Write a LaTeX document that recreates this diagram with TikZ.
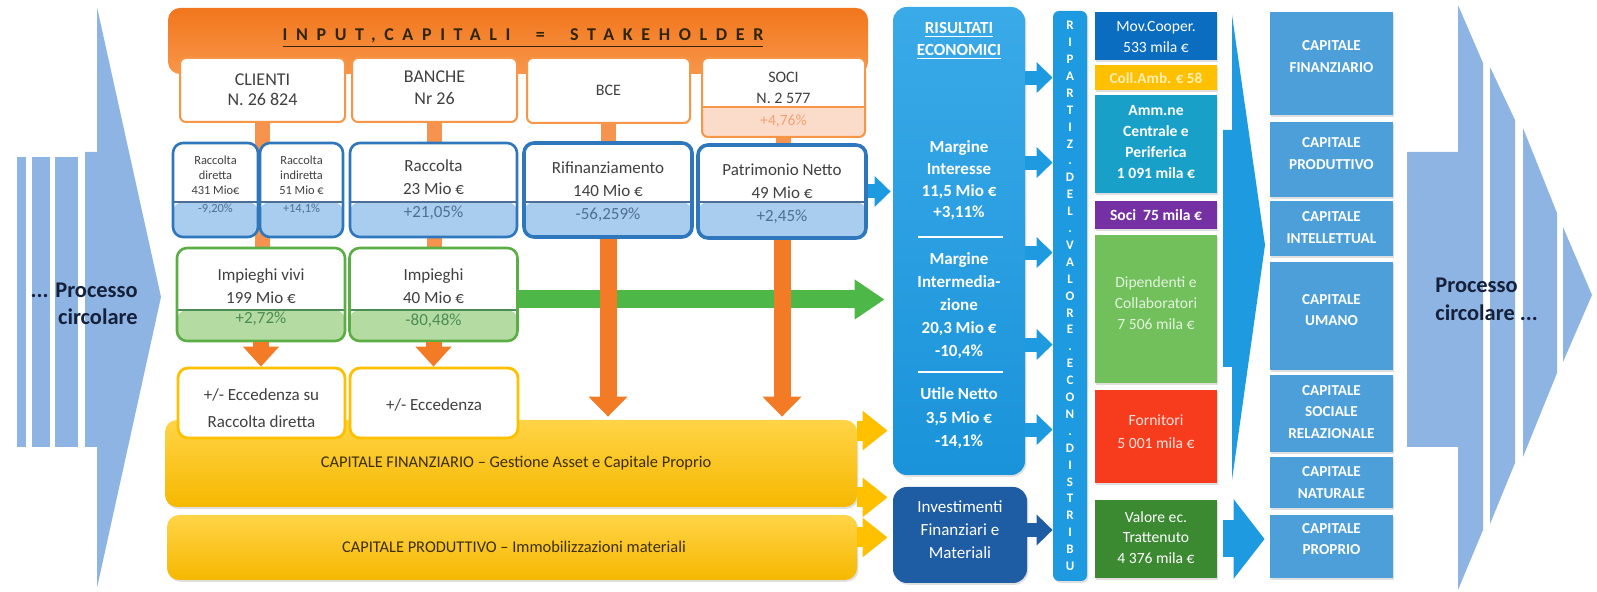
\documentclass[tikz,border=0pt]{standalone}
\usepackage{fontspec}
\setmainfont{Carlito}
\usetikzlibrary{arrows.meta,backgrounds,shadows}

\definecolor{orgtop}{HTML}{F2761C}
\definecolor{orgbot}{HTML}{F7964A}
\definecolor{orgline}{HTML}{F79646}
\definecolor{orgbar}{HTML}{F5934F}
\definecolor{orgarrow}{HTML}{F47B25}
\definecolor{pinkband}{HTML}{FBDCCB}
\definecolor{pinktxt}{HTML}{F2A173}
\definecolor{blueline}{HTML}{2F77BD}
\definecolor{blueband}{HTML}{A9CDEE}
\definecolor{bluetxt}{HTML}{4D6F93}
\definecolor{greenline}{HTML}{5AAE44}
\definecolor{greenband}{HTML}{B4DBA2}
\definecolor{greentxt}{HTML}{4C8C55}
\definecolor{greenarrow}{HTML}{4DB848}
\definecolor{yeltop}{HTML}{FFD447}
\definecolor{yelbot}{HTML}{F6B800}
\definecolor{yelline}{HTML}{FFC000}
\definecolor{yeltxt}{HTML}{3B2E05}
\definecolor{ristop}{HTML}{3AAAE8}
\definecolor{risbot}{HTML}{1A93DA}
\definecolor{invblue}{HTML}{1E5CA4}
\definecolor{ripblue}{HTML}{1E9BE0}
\definecolor{movblue}{HTML}{0A6DC0}
\definecolor{collyel}{HTML}{FFC000}
\definecolor{ammteal}{HTML}{19A0C9}
\definecolor{socipur}{HTML}{7530A3}
\definecolor{dipgreen}{HTML}{72C05C}
\definecolor{fornred}{HTML}{F73C1E}
\definecolor{valgreen}{HTML}{3B8A31}
\definecolor{capblue}{HTML}{4D9FDA}
\definecolor{chevblue}{HTML}{8EB4E3}
\definecolor{navytxt}{HTML}{15203A}
\definecolor{txtgrey}{HTML}{404040}

\tikzset{
  sz/.style 2 args={minimum width=#1*0.5pt, minimum height=#2*0.5pt},
  band/.style n args={3}{path picture={
      \fill[#1] (path picture bounding box.south west) rectangle ([yshift=#2]path picture bounding box.south east);
      \draw[#3, line width=0.6pt] ([yshift=#2]path picture bounding box.south west) -- ([yshift=#2]path picture bounding box.south east);}},
  stake/.style={draw=orgline, line width=1pt, fill=white, rounded corners=3pt},
  racc/.style={draw=blueline, line width=1.3pt, fill=white, rounded corners=5pt},
  imp/.style={draw=greenline, line width=1.3pt, fill=white, rounded corners=5pt},
  ecc/.style={draw=yelline, line width=1.4pt, fill=white, rounded corners=5pt},
  shad/.style={drop shadow={shadow xshift=0.7pt, shadow yshift=-0.9pt, opacity=0.25}},
  ybar/.style={top color=yeltop, bottom color=yelbot, rounded corners=6pt, shad},
  flat/.style={fill=#1, shad},
  capbox/.style={fill=capblue, shad},
  small/.style={font=\fontsize{6.2}{7.6}\selectfont},
  wtxt/.style={text=white, font=\fontsize{7.8}{10.5}\selectfont},
  captxt/.style={text=white, font=\bfseries\fontsize{7.6}{10.8}\selectfont},
  ristxt/.style={text=white, font=\bfseries\fontsize{8.5}{11.2}\selectfont},
  obar/.style={draw=orgbar, line width=7.5pt},
  odown/.style={draw=orgarrow, line width=8.5pt, -{Triangle[length=10pt,width=19pt]}},
  osmall/.style={draw=orgarrow, line width=8pt, -{Triangle[length=10pt,width=17.5pt]}},
  garrow/.style={draw=greenarrow, line width=9pt, -{Triangle[length=15pt,width=19pt]}},
  yarrow/.style={draw=yelline, line width=10pt, -{Triangle[length=12.5pt,width=19pt]}, shorten >=2.5pt},
  barrow/.style={draw=#1, line width=7pt, -{Triangle[length=8pt,width=15pt]}},
}

\begin{document}
\begin{tikzpicture}[x=0.5pt, y=-0.5pt, every node/.style={inner sep=0pt, align=center, text=txtgrey, font=\fontsize{8.5}{11.5}\selectfont}]
  \useasboundingbox (0,0) rectangle (1597,592);

    \fill[chevblue] (17,157) rectangle (26,447);
  \fill[chevblue] (32,157) rectangle (50,447);
  \fill[chevblue] (55,157) rectangle (78,447);
  \fill[chevblue] (85,152) -- (97,152) -- (97,7) -- (161,297) -- (97,588) -- (97,447) -- (85,447) -- cycle;
    \fill[chevblue] (1407,152) -- (1458,152) -- (1458,5) -- (1483,63) -- (1483,530) -- (1458,590) -- (1458,447) -- (1407,447) -- cycle;
  \fill[chevblue] (1490,67) -- (1515,120) -- (1515,463) -- (1490,524) -- cycle;
  \fill[chevblue] (1523,128) -- (1557,213) -- (1557,373) -- (1523,457) -- cycle;
  \fill[chevblue] (1563,227) -- (1592,295) -- (1563,362) -- cycle;

    \node [top color=orgtop, bottom color=orgbot, rounded corners=6pt, sz={700}{66}] (input) at (518,41) {};
  \node [text=yeltxt!80!black, font=\bfseries\fontsize{9}{11}\selectfont] (title) at (523,38) {\underline{\addfontfeature{LetterSpace=48}INPUT,CAPITALI\ \ =\ \ STAKEHOLDER}};

    \node [stake, sz={165}{64}] (clienti) at (262.5,90) {};
  \node [stake, sz={165}{64}] (banche) at (434.5,90) {};
  \node [stake, sz={163}{65}] (bce) at (608.5,90.5) {};
  \node [stake, sz={163}{79}, band={pinkband}{15pt}{orgline}] (soci) at (783.5,97.5) {};
  \node [font=\fontsize{9}{10}\selectfont] (clienti-t) at (262.5,90) {CLIENTI\\N. 26 824};
  \node [font=\fontsize{9}{11}\selectfont] (banche-t) at (434.5,88) {BANCHE\\Nr 26};
  \node [font=\fontsize{8}{10}\selectfont] (bce-t) at (608.5,90) {BCE};
  \node [font=\fontsize{8}{10.5}\selectfont] (soci-t) at (783.5,87.5) {SOCI\\N. 2 577};
  \node [font=\fontsize{7.8}{10}\selectfont, text=pinktxt] (soci-p) at (783.5,121) {+4,76\%};

    \node [racc, sz={85}{94}, band={blueband}{17.5pt}{bluetxt}] (rd) at (215.5,190) {};
  \node [racc, sz={83}{94}, band={blueband}{17.5pt}{bluetxt}] (ri) at (301.5,190) {};
  \node [racc, sz={167}{94}, band={blueband}{17.5pt}{bluetxt}] (rb) at (433.5,190) {};
  \node [racc, line width=1.8pt, sz={168}{94}, band={blueband}{17.5pt}{bluetxt}] (rif) at (608,190) {};
  \node [racc, line width=1.8pt, sz={168}{93}, band={blueband}{18pt}{bluetxt}] (pn) at (782,191.5) {};
  \node [small] (rd-t) at (215.5,175) {Raccolta\\diretta\\431 Mio€};
  \node [small, text=bluetxt] (rd-p) at (215.5,209) {-9,20\%};
  \node [small] (ri-t) at (301.5,175) {Raccolta\\indiretta\\51 Mio €};
  \node [small, text=bluetxt] (ri-p) at (301.5,209) {+14,1\%};
  \node (rb-t) at (433.5,177.5) {Raccolta\\23 Mio €};
  \node [text=bluetxt] (rb-p) at (433.5,213) {+21,05\%};
  \node (rif-t) at (608,179.5) {Rifinanziamento\\140 Mio €};
  \node [text=bluetxt] (rif-p) at (608,215) {-56,259\%};
  \node (pn-t) at (782,181.5) {Patrimonio Netto\\49 Mio €};
  \node [text=bluetxt] (pn-p) at (782,217) {+2,45\%};

    \node [imp, sz={168}{93}, band={greenband}{15.5pt}{greentxt}] (iv) at (261,294.5) {};
  \node [imp, sz={168}{93}, band={greenband}{15.5pt}{greentxt}] (im) at (433.5,294.5) {};
  \node (iv-t) at (261,286) {Impieghi vivi\\199 Mio €};
  \node [text=greentxt] (iv-p) at (261,319) {+2,72\%};
  \node (im-t) at (433.5,286) {Impieghi\\40 Mio €};
  \node [text=greentxt] (im-p) at (433.5,321) {-80,48\%};

    \node [ybar, sz={692}{87}] (cf) at (511,463.5) {};
  \node [ybar, sz={690}{65}] (cp) at (512,547.5) {};
  \node [ecc, sz={167}{70}] (ecc1) at (261.5,403) {};
  \node [ecc, sz={168}{70}] (ecc2) at (434,403) {};
  \node [font=\fontsize{8.5}{13.5}\selectfont] (ecc1-t) at (261.5,408.5) {+/- Eccedenza su\\Raccolta diretta};
  \node (ecc2-t) at (434,405) {+/- Eccedenza};
  \node [text=yeltxt, font=\fontsize{8.2}{10}\selectfont] (cf-t) at (516,463) {CAPITALE FINANZIARIO – Gestione Asset e Capitale Proprio};
  \node [text=yeltxt, font=\fontsize{8.2}{10}\selectfont] (cp-t) at (514,547) {CAPITALE PRODUTTIVO – Immobilizzazioni materiali};

    \node [top color=ristop, bottom color=risbot, rounded corners=7pt, shad, sz={132}{468}] (ris) at (959,241) {};
  \node [fill=invblue, rounded corners=7pt, shad, sz={134}{96}] (inv) at (960,535) {};
  \node [ristxt, font=\bfseries\fontsize{8.5}{11}\selectfont] (ris-t) at (959,41) {\underline{RISULTATI}\\\underline{ECONOMICI}};
  \node [ristxt, font=\bfseries\fontsize{8.5}{10.8}\selectfont] (mi-t) at (959,180.5) {Margine\\Interesse\\11,5 Mio €\\+3,11\%};
  \node [ristxt, font=\bfseries\fontsize{8.5}{11.5}\selectfont] (mint-t) at (959,306) {Margine\\Intermedia-\\zione\\20,3 Mio €\\-10,4\%};
  \node [ristxt, font=\bfseries\fontsize{8.5}{11.7}\selectfont] (un-t) at (959,418.5) {Utile Netto\\3,5 Mio €\\-14,1\%};
  \node [text=white, font=\fontsize{8.5}{11.5}\selectfont] (inv-t) at (960,530) {Investimenti\\Finanziari e\\Materiali};
    \draw [white, line width=1pt] (918,237) -- (1003,237);
  \draw [white, line width=1pt] (918,372) -- (1003,372);

    \node [fill=ripblue, rounded corners=3pt, shad, sz={34}{570}, text=white, font=\bfseries\fontsize{6.5}{8.45}\selectfont] (rip) at (1070,296) {R\\I\\P\\A\\R\\T\\I\\Z\\.\\D\\E\\L\\.\\V\\A\\L\\O\\R\\E\\.\\E\\C\\O\\N\\.\\D\\I\\S\\T\\R\\I\\B\\U};

    \node [flat=movblue, sz={122}{48}] (mov) at (1156,36) {};
  \node [flat=collyel, sz={122}{25}] (coll) at (1156,77.5) {};
  \node [flat=ammteal, sz={122}{98}] (amm) at (1156,144) {};
  \node [flat=socipur, sz={122}{28}] (socid) at (1156,215) {};
  \node [flat=dipgreen, sz={122}{148}] (dip) at (1156,309) {};
  \node [flat=fornred, sz={122}{93}] (forn) at (1156,436.5) {};
  \node [flat=valgreen, sz={122}{78}] (val) at (1156,539) {};
  \node [wtxt] (mov-t) at (1156,37.5) {Mov.Cooper.\\533 mila €};
  \node [wtxt, font=\bfseries\fontsize{7.6}{10}\selectfont, text=yeltop!40!white] (coll-t) at (1156,78.5) {Coll.Amb. € 58};
  \node [wtxt, font=\bfseries\fontsize{7.8}{10.6}\selectfont] (amm-t) at (1156,142) {Amm.ne\\Centrale e\\Periferica\\1 091 mila €};
  \node [wtxt, font=\bfseries\fontsize{7.8}{10}\selectfont] (socid-t) at (1156,215) {Soci\ \ 75 mila €};
  \node [wtxt, text=dipgreen!20!white] (dip-t) at (1156,303) {Dipendenti e\\Collaboratori\\7 506 mila €};
  \node [wtxt, text=fornred!15!white, font=\fontsize{7.8}{11.5}\selectfont] (forn-t) at (1156,431.5) {Fornitori\\5 001 mila €};
  \node [wtxt, font=\fontsize{7.8}{10.3}\selectfont] (val-t) at (1156,537.5) {Valore ec.\\Trattenuto\\4 376 mila €};

    \node [capbox, sz={123}{103}] (cfin) at (1331.5,63.5) {};
  \node [capbox, sz={123}{75}] (cprod) at (1331.5,159.5) {};
  \node [capbox, sz={123}{55}] (cint) at (1331.5,228.5) {};
  \node [capbox, sz={123}{108}] (cuma) at (1331.5,316) {};
  \node [capbox, sz={123}{77}] (csoc) at (1331.5,413.5) {};
  \node [capbox, sz={123}{51}] (cnat) at (1331.5,482.5) {};
  \node [capbox, sz={123}{63}] (cpro) at (1331.5,546.5) {};
  \node [captxt] (cfin-t) at (1331.5,56.5) {CAPITALE\\FINANZIARIO};
  \node [captxt] (cprod-t) at (1331.5,153.5) {CAPITALE\\PRODUTTIVO};
  \node [captxt] (cint-t) at (1331.5,227.5) {CAPITALE\\INTELLETTUAL};
  \node [captxt] (cuma-t) at (1331.5,310) {CAPITALE\\UMANO};
  \node [captxt] (csoc-t) at (1331.5,412) {CAPITALE\\SOCIALE\\RELAZIONALE};
  \node [captxt] (cnat-t) at (1331.5,482.5) {CAPITALE\\NATURALE};
  \node [captxt] (cpro-t) at (1331.5,539) {CAPITALE\\PROPRIO};

    \fill[ripblue] (1232,15) -- (1265,245) -- (1232,480) -- (1232,367) -- (1223,367) -- (1223,130) -- (1232,130) -- cycle;

    \begin{pgfonlayer}{background}
    \draw [obar] (clienti) -- (clienti |- iv.north);
    \draw [obar] (banche) -- (banche |- im.north);
    \draw [obar] (bce) -- (bce |- rif.north);
    \draw [obar] (soci) -- (soci |- pn.north);
  \end{pgfonlayer}
    \draw [garrow, shorten >=4pt] ([yshift=-2.5pt]im.east) -- ([yshift=-2.5pt]im.east -| ris.west);
  \draw [odown, shorten >=1.5pt] (rif.south) -- (rif.south |- cf.north);
  \draw [odown, shorten >=1.5pt] (pn.south) -- (pn.south |- cf.north);
  \draw [osmall] (iv.south) -- (iv.south |- ecc1.north);
  \draw [osmall] (im.south) -- (im.south |- ecc2.north);
    \draw [yarrow] ([yshift=-5.5pt]cf.north east) -- ([yshift=-5.5pt]cf.north east -| ris.west);
  \draw [yarrow] ([yshift=5pt]cf.south east) -- ([yshift=5pt]cf.south east -| inv.west);
  \draw [yarrow] ([yshift=5pt]cp.east) -- ([yshift=5pt]cp.east -| inv.west);
    \draw [barrow=ripblue, shorten >=1pt] (pn.east) -- (pn.east -| ris.west);
  \draw [barrow=ripblue] ([yshift=-35.5pt]ris.north east) -- ([yshift=-35.5pt]ris.north east -| rip.west);
  \draw [barrow=ripblue] ([yshift=-78pt]ris.north east) -- ([yshift=-78pt]ris.north east -| rip.west);
  \draw [barrow=ripblue] ([yshift=-123pt]ris.north east) -- ([yshift=-123pt]ris.north east -| rip.west);
  \draw [barrow=ripblue] ([yshift=-169pt]ris.north east) -- ([yshift=-169pt]ris.north east -| rip.west);
  \draw [barrow=ripblue] ([yshift=-211.5pt]ris.north east) -- ([yshift=-211.5pt]ris.north east -| rip.west);
  \draw [barrow=invblue] ([yshift=2.5pt]inv.east) -- ([yshift=2.5pt]inv.east -| rip.west);
    \draw [draw=ripblue, line width=18.5pt, -{Triangle[length=15.5pt,width=39pt]}, shorten <=3pt, shorten >=2.5pt] (val.east) -- (val.east -| cpro.west);

    \node [anchor=east, align=right, text=navytxt, font=\bfseries\fontsize{11.2}{13.5}\selectfont] (procl) at (138,303.5) {... Processo\\circolare};
  \node [anchor=west, align=left, text=navytxt, font=\bfseries\fontsize{11.2}{14}\selectfont] (procr) at (1435,299) {Processo\\circolare ...};
\end{tikzpicture}
\end{document}
